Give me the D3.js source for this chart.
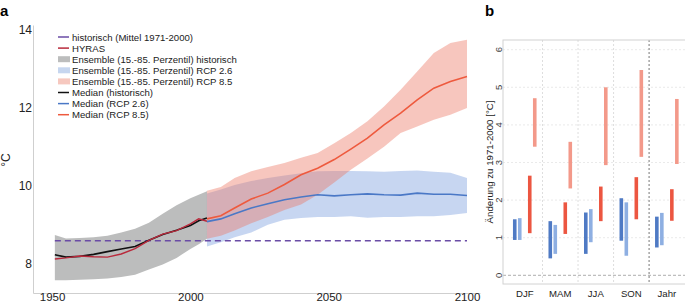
<!DOCTYPE html>
<html>
<head>
<meta charset="utf-8">
<script src="https://cdn.jsdelivr.net/npm/d3@7"></script>
<style>
body{margin:0;background:#fff;}
svg{font-family:"Liberation Sans",Arial,sans-serif;}
.axis path{stroke:#cfcfcf;}
.axis text{fill:#222;}
</style>
</head>
<body>
<svg id="chart" width="685" height="304"></svg>
<script>
// panel a
let histYears = [1951,1955,1960,1965,1970,1975,1980,1985,1990,1995,2000,2003,2006];
let histMed = [8.23,8.17,8.19,8.24,8.31,8.38,8.44,8.60,8.75,8.86,8.98,9.10,9.17];
let hyras   = [8.12,8.15,8.20,8.18,8.17,8.25,8.39,8.60,8.76,8.85,9.02,9.15,9.09];
let histHi  = [8.74,8.65,8.66,8.68,8.72,8.80,8.90,9.05,9.28,9.50,9.68,9.77,9.86];
let histLo  = [7.58,7.58,7.59,7.60,7.62,7.66,7.72,7.85,7.98,8.15,8.38,8.50,8.64];

let rcpYears = [2006,2011,2016,2022,2028,2034,2040,2046,2052,2058,2064,2070,2076,2082,2088,2094,2100];
let rcp85Med = [9.15,9.23,9.43,9.66,9.81,10.03,10.28,10.45,10.67,10.94,11.22,11.56,11.86,12.20,12.50,12.67,12.80];
let rcp85Hi  = [9.87,9.97,10.20,10.37,10.48,10.58,10.72,10.84,11.09,11.35,11.65,12.03,12.46,12.93,13.40,13.66,13.74];
let rcp85Lo  = [8.64,8.72,8.85,9.04,9.20,9.38,9.52,9.77,10.08,10.41,10.70,11.00,11.35,11.52,11.69,11.82,11.99];
let rcp26Med = [9.08,9.15,9.28,9.43,9.54,9.64,9.71,9.77,9.74,9.77,9.79,9.77,9.76,9.81,9.78,9.78,9.75];
let rcp26Hi  = [9.80,9.90,10.02,10.12,10.20,10.26,10.32,10.37,10.38,10.38,10.37,10.36,10.38,10.39,10.36,10.33,10.20];
let rcp26Lo  = [8.44,8.55,8.68,8.80,9.00,9.13,9.17,9.20,9.20,9.22,9.18,9.20,9.20,9.22,9.22,9.25,9.30];

let refMean = 8.59;
let refYears = [1951,2100];
let yTicksA = [8,10,12,14];
let xTicksA = [1950,2000,2050,2100];

let legendItems = [
  {label:'historisch (Mittel 1971-2000)', type:'line', color:'#6a4ca6'},
  {label:'HYRAS', type:'line', color:'#b92a3c'},
  {label:'Ensemble (15.-85. Perzentil) historisch', type:'rect', color:'#bcbdbd'},
  {label:'Ensemble (15.-85. Perzentil) RCP 2.6', type:'rect', color:'#c6d6ef'},
  {label:'Ensemble (15.-85. Perzentil) RCP 8.5', type:'rect', color:'#f6c8bf'},
  {label:'Median (historisch)', type:'line', color:'#111'},
  {label:'Median (RCP 2.6)', type:'line', color:'#4a78c6'},
  {label:'Median (RCP 8.5)', type:'line', color:'#ee5a3e'}
];

// panel b
let seasons = ['DJF','MAM','JJA','SON','Jahr'];
let seriesB = ['rcp26near','rcp26far','rcp85near','rcp85far'];
let lowB = {
  rcp26near:[0.94,0.45,0.57,0.92,0.74],
  rcp26far: [0.94,0.57,0.88,0.52,0.80],
  rcp85near:[1.12,1.10,1.44,1.49,1.45],
  rcp85far: [3.42,2.31,2.93,3.15,2.96]
};
let highB = {
  rcp26near:[1.49,1.44,1.67,2.05,1.56],
  rcp26far: [1.52,1.34,1.76,1.94,1.66],
  rcp85near:[2.65,1.94,2.36,2.61,2.29],
  rcp85far: [4.71,3.55,5.00,5.46,4.69]
};
let colorB = {rcp26near:'#4f7ac4', rcp26far:'#8eafe2', rcp85near:'#ec5641', rcp85far:'#f3998a'};
let offsetB = {rcp26near:-10, rcp26far:-5, rcp85near:5, rcp85far:10};
let yTicksB = [0,1,2,3,4,5,6];

let svg = d3.select('#chart');

// ---------- panel a ----------
let x = d3.scaleLinear().domain([1943.1,2104.7]).range([33,480]);
let y = d3.scaleLinear().domain([7.25,14.12]).range([293,25]);

let hist = histYears.map((d,i)=>({year:d, med:histMed[i], hy:hyras[i], lo:histLo[i], hi:histHi[i]}));
let rcp = rcpYears.map((d,i)=>({year:d, m85:rcp85Med[i], lo85:rcp85Lo[i], hi85:rcp85Hi[i], m26:rcp26Med[i], lo26:rcp26Lo[i], hi26:rcp26Hi[i]}));

let ga = svg.append('g');

ga.append('path').datum(hist)
  .attr('d', d3.area().x(d=>x(d.year)).y0(d=>y(d.lo)).y1(d=>y(d.hi)))
  .attr('fill','#bcbdbd');
ga.append('path').datum(rcp)
  .attr('d', d3.area().x(d=>x(d.year)).y0(d=>y(d.lo26)).y1(d=>y(d.hi26)))
  .attr('fill','rgb(70,120,210)').attr('fill-opacity',0.3);
ga.append('path').datum(rcp)
  .attr('d', d3.area().x(d=>x(d.year)).y0(d=>y(d.lo85)).y1(d=>y(d.hi85)))
  .attr('fill','rgb(235,120,100)').attr('fill-opacity',0.42);

ga.append('path').datum(refYears)
  .attr('d', d3.line().x(d=>x(d)).y(()=>y(refMean)))
  .attr('stroke','#6a4ca6').attr('stroke-width',1.6).attr('stroke-dasharray','6,4').attr('fill','none');

ga.append('path').datum(hist)
  .attr('d', d3.line().x(d=>x(d.year)).y(d=>y(d.med)))
  .attr('stroke','#111').attr('stroke-width',1.6).attr('fill','none');
ga.append('path').datum(hist)
  .attr('d', d3.line().x(d=>x(d.year)).y(d=>y(d.hy)))
  .attr('stroke','#b92a3c').attr('stroke-width',1.4).attr('fill','none');
ga.append('path').datum(rcp)
  .attr('d', d3.line().x(d=>x(d.year)).y(d=>y(d.m26)))
  .attr('stroke','#4a78c6').attr('stroke-width',1.6).attr('fill','none');
ga.append('path').datum(rcp)
  .attr('d', d3.line().x(d=>x(d.year)).y(d=>y(d.m85)))
  .attr('stroke','#ee5a3e').attr('stroke-width',1.6).attr('fill','none');

let ax = ga.append('g').attr('class','axis').attr('transform','translate(0,293)')
  .call(d3.axisBottom(x).tickValues(xTicksA).tickFormat(d3.format('d')).tickSize(0).tickPadding(0));
ax.selectAll('text').attr('font-size','11.5px').attr('font-family','Liberation Sans');
let ay = ga.append('g').attr('class','axis').attr('transform','translate(33,0)')
  .call(d3.axisLeft(y).tickValues(yTicksA).tickFormat(d3.format('d')).tickSize(0).tickPadding(1));
ay.selectAll('text').attr('font-size','12px').attr('font-family','Liberation Sans');

ga.append('text').attr('transform','translate(10,160) rotate(-90)')
  .attr('text-anchor','middle').attr('font-size','12px').attr('fill','#222').text('°C');
ga.append('text').attr('x',0).attr('y',16).attr('font-size','15px').attr('font-weight','bold').text('a');

// legend
let lg = ga.append('g').attr('transform','translate(58,37)');
let li = lg.selectAll('g').data(legendItems).enter().append('g')
  .attr('transform',(d,i)=>`translate(0,${i*11.1})`);
li.filter(d=>d.type=='line').append('line')
  .attr('x1',0).attr('x2',11).attr('y1',0).attr('y2',0)
  .attr('stroke',d=>d.color).attr('stroke-width',1.5);
li.filter(d=>d.type=='rect').append('rect')
  .attr('x',0).attr('y',-3).attr('width',12).attr('height',6)
  .attr('fill',d=>d.color);
li.append('text').attr('x',14).attr('y',3.5).attr('font-size','9.6px').attr('fill','#222').text(d=>d.label);

// ---------- panel b ----------
let xb = d3.scaleBand().domain(seasons).range([507,684.6]);
let yb = d3.scaleLinear().domain([0,6]).range([275.3,49.7]);
let gb = svg.append('g');

gb.selectAll('.hgrid').data(yTicksB.filter(d=>d>0)).enter().append('line')
  .attr('x1',503).attr('x2',685).attr('y1',d=>yb(d)).attr('y2',d=>yb(d))
  .attr('stroke','#e4e4e4').attr('stroke-width',0.8).attr('stroke-dasharray','2,2');
gb.append('line').attr('x1',503).attr('x2',685).attr('y1',yb(0)).attr('y2',yb(0))
  .attr('stroke','#999').attr('stroke-width',0.8).attr('stroke-dasharray','3,2');
gb.selectAll('.vgrid').data(seasons.slice(1)).enter().append('line')
  .attr('x1',d=>xb(d)).attr('x2',d=>xb(d)).attr('y1',40).attr('y2',284)
  .attr('stroke',d=>d=='Jahr'?'#777':'#d4d4d4').attr('stroke-width',d=>d=='Jahr'?1:0.8)
  .attr('stroke-dasharray','2,2');
gb.append('rect').attr('x',503).attr('y',40).attr('width',190).attr('height',244)
  .attr('fill','none').attr('stroke','#d2d2d2').attr('stroke-width',1);

seriesB.forEach(s=>{
  gb.selectAll('.bar-'+s).data(seasons).enter().append('line')
    .attr('x1',d=>xb(d)+xb.bandwidth()/2+offsetB[s])
    .attr('x2',d=>xb(d)+xb.bandwidth()/2+offsetB[s])
    .attr('y1',(d,i)=>yb(lowB[s][i]))
    .attr('y2',(d,i)=>yb(highB[s][i]))
    .attr('stroke',colorB[s]).attr('stroke-width',3.6);
});

gb.selectAll('.ytb').data(yTicksB).enter().append('text')
  .attr('transform',d=>`translate(502,${yb(d)}) rotate(-90)`)
  .attr('text-anchor','middle').attr('font-size','9.5px').attr('fill','#444').text(d=>d);
gb.selectAll('.xtb').data(seasons).enter().append('text')
  .attr('x',d=>xb(d)+xb.bandwidth()/2).attr('y',297)
  .attr('text-anchor','middle').attr('font-size','9.6px').attr('fill','#222').text(d=>d);
gb.append('text').attr('transform','translate(493,162) rotate(-90)')
  .attr('text-anchor','middle').attr('font-size','9.7px').attr('fill','#222').text('Änderung zu 1971-2000 [°C]');
gb.append('text').attr('x',485).attr('y',16).attr('font-size','15px').attr('font-weight','bold').text('b');
</script>
</body>
</html>
